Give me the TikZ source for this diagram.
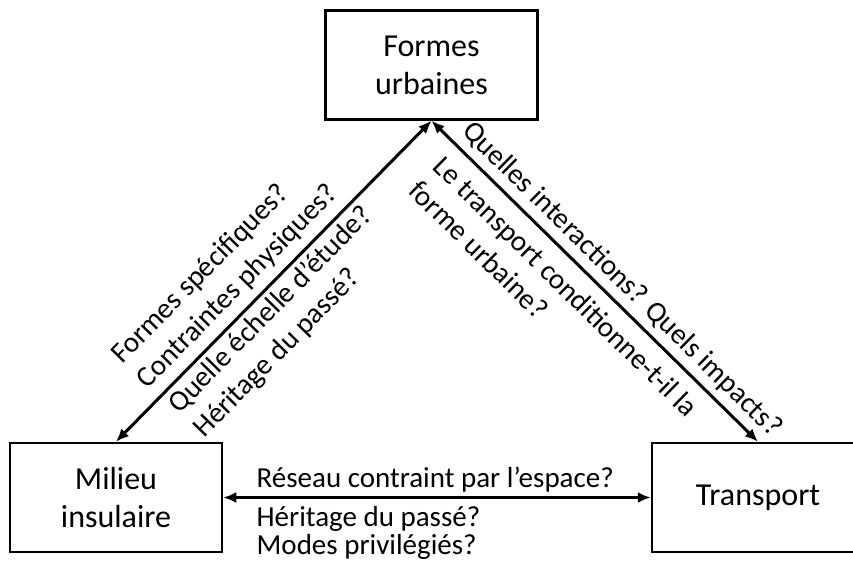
\documentclass[tikz,border=0pt]{standalone}
\usepackage{fontspec}
\setmainfont{Carlito}
\usetikzlibrary{arrows.meta}

\begin{document}
\begin{tikzpicture}[x=1pt,y=-1pt]
						\tikzstyle{boite}=[rectangle,draw=black,line width=2.5pt,minimum width=212pt,minimum height=109pt,align=center,font=\fontsize{32}{38}\selectfont]
						\tikzstyle{lien}=[line width=3pt,{Latex[length=13pt,width=11pt]}-{Latex[length=13pt,width=11pt]}]
						\tikzstyle{question}=[align=left,inner xsep=2pt,font=\fontsize{29}{28}\selectfont]
						\tikzstyle{pente}=[question,sloped,font=\fontsize{29}{35}\selectfont]
						\clip (0,0) rectangle (853,562);
						\node[boite](formes) at (431.5,65) {Formes\\urbaines};
						\node[boite](milieu) at (116,497.5) {Milieu\\insulaire};
						\node[boite](transport) at (758,497.5) {Transport};
						\draw[lien] (milieu.north) -- (formes.south)
							node [pos=0.435, above, pente, inner ysep=8pt] {Formes spécifiques?\\Contraintes physiques?}
							node [pos=0.45, below, pente, inner ysep=4pt] {Quelle échelle d’étude?\\Héritage du passé?};
						\draw[lien] (formes.south) -- (transport.north)
							node [pos=0.54, above, pente, inner ysep=6pt] {Quelles interactions? Quels impacts?}
							node [pos=0.463, below, pente, inner ysep=12pt] {Le transport conditionne-t-il la\\forme urbaine?};
						\draw[lien] (milieu.east) -- (transport.west)
							node [pos=0.07, anchor=south west, question, inner ysep=4pt] {Réseau contraint par l’espace?}
							node [pos=0.07, anchor=north west, question, inner ysep=7pt] {Héritage du passé?\\Modes privilégiés?};
					\end{tikzpicture}
\end{document}
